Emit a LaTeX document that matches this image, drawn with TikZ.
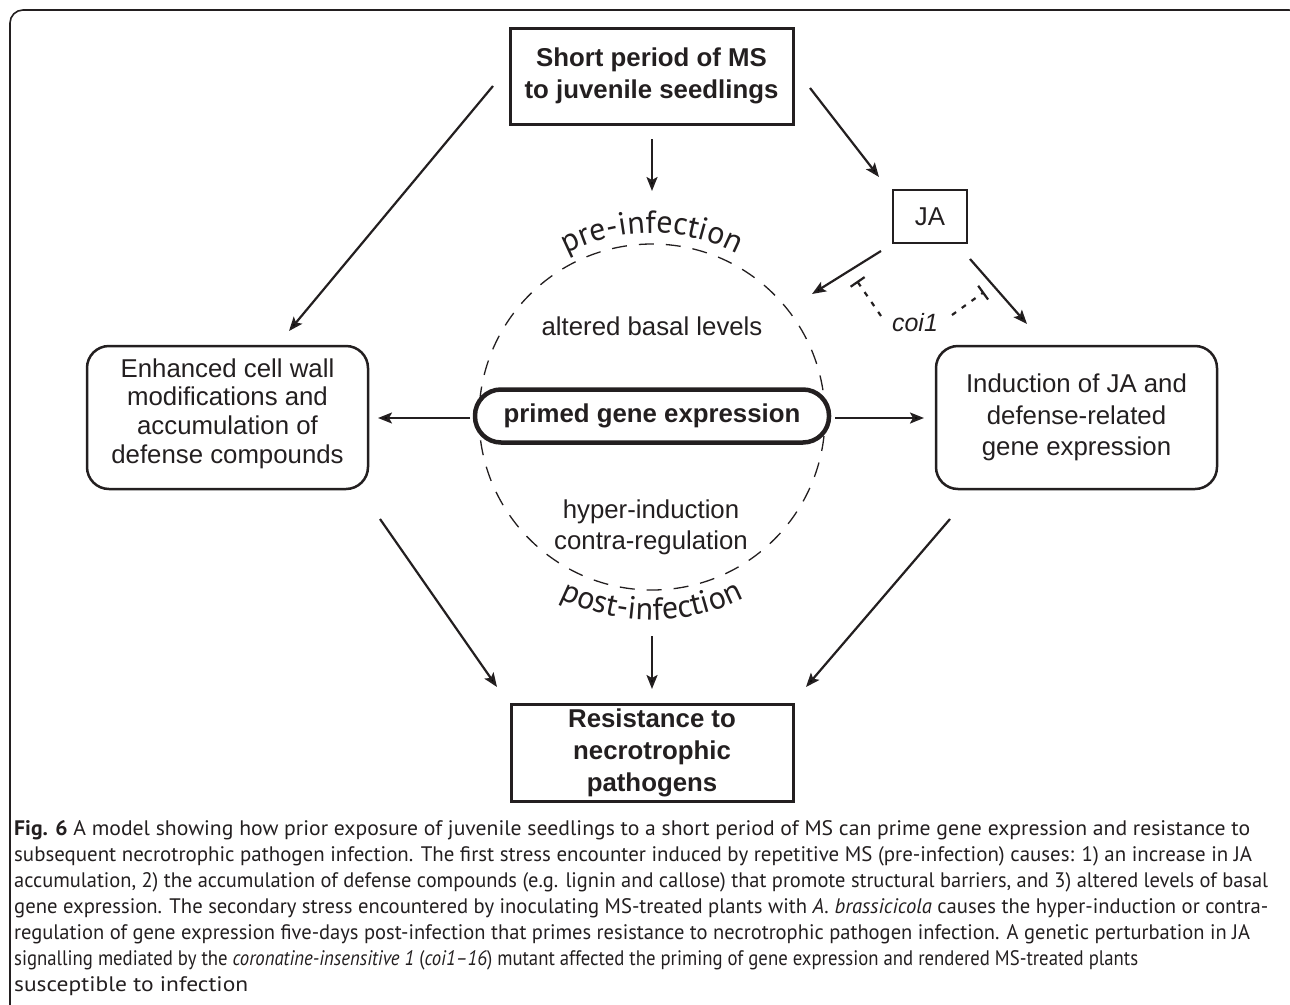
\documentclass[tikz,border=0pt]{standalone}
\usepackage{fontspec}
\setmainfont{Liberation Sans}
\newfontfamily\capfont{PT Sans}
\newfontfamily\arcfamily{PT Sans}
\usetikzlibrary{arrows.meta,decorations.text,calc}
\definecolor{ink}{HTML}{231F20}
\newcommand\arctext{\arcfamily\fontsize{32}{32}\selectfont}
\newsavebox\capbox
\newcommand\fitline[2]{\sbox\capbox{#2}\pgfmathsetmacro\capfac{#1/\the\wd\capbox}\scalebox{\capfac}[1]{\usebox\capbox}}
\begin{document}
\begin{tikzpicture}[x=1pt,y=1pt,
  txt/.style={text=ink, align=center, inner sep=0pt},
  sqbox/.style={draw=ink, line width=3pt, inner sep=0pt, align=center, text=ink,
     font=\bfseries\fontsize{25.8}{32}\selectfont},
  rbox/.style={draw=ink, line width=2.5pt, rounded corners=22pt, inner sep=0pt,
     align=center, text=ink, minimum width=281pt, minimum height=143pt},
  arr/.style={draw=ink, line width=2.2pt, -{Stealth[length=14pt,width=11pt,inset=3pt]}},
  inh/.style={draw=ink, line width=2.2pt, dash pattern=on 5pt off 7pt,
     -{Bar[width=17pt,line width=2.2pt]}},
  capline/.style={anchor=base west, inner sep=0pt, text=ink,
     font=\capfont\fontsize{21}{26}\selectfont}
]
\useasboundingbox (0,0) rectangle (1290,-1004);
\clip (0,0) rectangle (1290,-1004);
\draw[ink, line width=1.6pt, rounded corners=13pt] (10,-10) rectangle (1302,-1030);

% dashed circle
\coordinate (C) at (652,-417);
\draw[ink, line width=1.3pt, dash pattern=on 15pt off 12pt] (C) circle[radius=173];
\path[decorate, decoration={text along path, text align=center, text color=ink,
   text={|\arctext|pre-infection}}]
   ($(C)+(150:184)$) arc[start angle=150, end angle=30, radius=184];
\path[decorate, decoration={text along path, text align=center, text color=ink,
   text={|\arctext|post-infection}}]
   ($(C)+(208:203)$) arc[start angle=208, end angle=332, radius=203];

% nodes
\node[sqbox, minimum width=283pt, minimum height=96pt] (ms) at (651.5,-76)
   {Short period of MS\\to juvenile seedlings};
\node[draw=ink, line width=2.5pt, minimum width=74pt, minimum height=53pt, inner sep=0pt,
   text=ink, font=\fontsize{25.8}{30}\selectfont] (ja) at (930,-216.5) {JA};
\node[rbox, font=\fontsize{25.8}{28.6}\selectfont] (cw) at (227.5,-417.5)
   {Enhanced cell wall\\modifications and\\accumulation of\\defense compounds\rule[-13.5pt]{0pt}{0pt}};
\node[rbox, font=\fontsize{25.8}{31.7}\selectfont] (ind) at (1076.5,-417.5)
   {Induction of JA and\\defense-related\\gene expression};
\node[draw=ink, fill=white, line width=4.5pt, rounded corners=26pt, minimum width=354pt,
   minimum height=53pt, inner sep=0pt, text=ink,
   font=\bfseries\fontsize{25.8}{30}\selectfont] (pg) at (652,-416) {primed gene expression};
\node[txt, anchor=base, font=\fontsize{25.8}{30}\selectfont] (abl) at (652,-335)
   {altered basal levels};
\node[txt, font=\fontsize{25.8}{31}\selectfont] (hyp) at (651,-527.5)
   {hyper-induction\\contra-regulation};
\node[sqbox, minimum width=282pt, minimum height=97pt] (res) at (652,-752.5)
   {Resistance to\\necrotrophic\\pathogens};
\node[txt, anchor=base, font=\itshape\fontsize{25}{30}\selectfont] (coi) at (915,-331) {coi1};

% connector end points
\coordinate (a1s) at (652,-139);  \coordinate (a1e) at (652,-191);
\coordinate (a2s) at (493,-86);   \coordinate (a2e) at (289,-331);
\coordinate (a3s) at (810,-88);   \coordinate (a3e) at (879,-177);
\coordinate (a4s) at (881,-251);  \coordinate (a4e) at (812,-294);
\coordinate (a5s) at (970,-259);  \coordinate (a5e) at (1027,-324);
\coordinate (a6s) at (470,-418);  \coordinate (a6e) at (378,-418);
\coordinate (a7s) at (835,-418);  \coordinate (a7e) at (924,-418);
\coordinate (a8s) at (380,-519);  \coordinate (a8e) at (497,-687);
\coordinate (a9s) at (950,-519);  \coordinate (a9e) at (806,-687);
\coordinate (a10s) at (652,-636); \coordinate (a10e) at (652,-689);
\coordinate (i1s) at (881,-316);  \coordinate (i1e) at (857,-281);
\coordinate (i2s) at (952,-315);  \coordinate (i2e) at (984,-292);

\draw[arr] (a1s) -- (a1e);
\draw[arr] (a2s) -- (a2e);
\draw[arr] (a3s) -- (a3e);
\draw[arr] (a4s) -- (a4e);
\draw[arr] (a5s) -- (a5e);
\draw[arr] (a6s) -- (a6e);
\draw[arr] (a7s) -- (a7e);
\draw[arr] (a8s) -- (a8e);
\draw[arr] (a9s) -- (a9e);
\draw[arr] (a10s) -- (a10e);
\draw[inh] (i1s) -- (i1e);
\draw[inh] (i2s) -- (i2e);

% caption
\node[capline] (c1) at (14,-835) {\fitline{1236}{\textbf{Fig. 6} A model showing how prior exposure of juvenile seedlings to a short period of MS can prime gene expression and resistance to}};
\node[capline] (c2) at (14,-861) {\fitline{1238}{subsequent necrotrophic pathogen infection. The first stress encounter induced by repetitive MS (pre-infection) causes: 1) an increase in JA}};
\node[capline] (c3) at (14,-887) {\fitline{1254}{accumulation, 2) the accumulation of defense compounds (e.g. lignin and callose) that promote structural barriers, and 3) altered levels of basal}};
\node[capline] (c4) at (14,-913) {\fitline{1254}{gene expression. The secondary stress encountered by inoculating MS-treated plants with \textit{A. brassicicola} causes the hyper-induction or contra-}};
\node[capline] (c5) at (14,-939) {\fitline{1236}{regulation of gene expression five-days post-infection that primes resistance to necrotrophic pathogen infection. A genetic perturbation in JA}};
\node[capline] (c6) at (14,-965) {\fitline{1124}{signalling mediated by the \textit{coronatine-insensitive 1} (\textit{coi1–16}) mutant affected the priming of gene expression and rendered MS-treated plants}};
\node[capline] (c7) at (14,-991) {\fitline{234}{susceptible to infection}};
\end{tikzpicture}
\end{document}
